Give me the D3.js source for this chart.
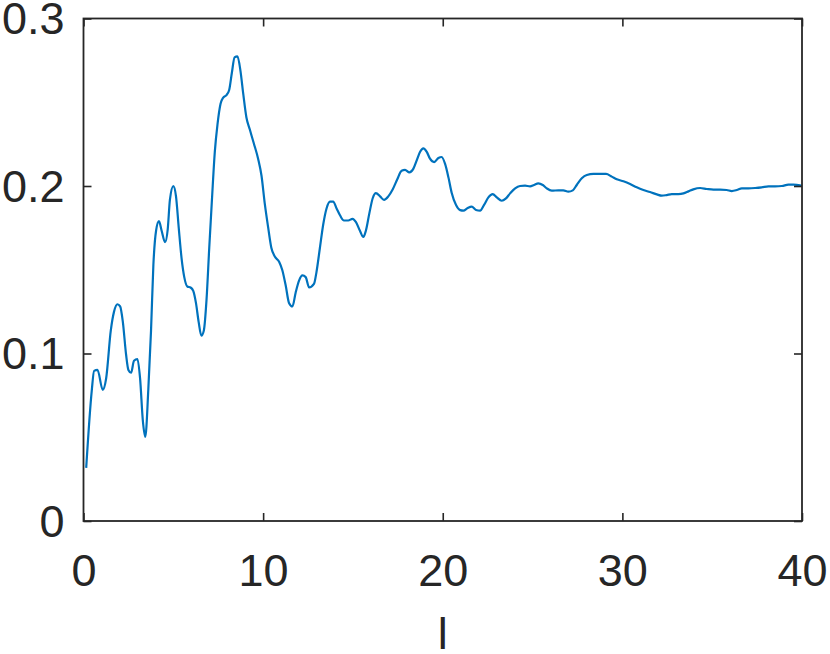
<!DOCTYPE html>
<html>
<head>
<meta charset="utf-8">
<script src="https://cdn.jsdelivr.net/npm/d3@7"></script>
<style>
  html, body { margin: 0; padding: 0; background: #fff; }
  svg { display: block; }
</style>
</head>
<body>
<div id="chart"></div>
<script>
// ---- data ----
const xValues = [0.15,0.46,0.59,0.78,1.07,1.26,1.52,1.70,1.89,2.04,2.19,2.37,2.50,2.65,2.81,3.00,3.15,3.30,3.44,3.61,3.76,3.89,4.04,4.20,4.35,4.54,4.69,4.81,5.00,5.15,5.30,5.46,5.61,5.78,5.96,6.11,6.26,6.41,6.56,6.70,6.85,7.00,7.15,7.31,7.46,7.63,7.78,7.96,8.11,8.26,8.41,8.57,8.74,8.89,9.07,9.26,9.48,9.72,9.91,10.09,10.28,10.46,10.65,10.89,11.07,11.26,11.44,11.63,11.81,12.00,12.19,12.37,12.56,
  12.83,12.97,13.16,13.35,13.53,13.72,13.90,14.09,14.28,14.50,14.74,14.98,15.17,15.39,15.58,15.72,15.91,16.10,16.28,16.51,16.73,16.97,17.21,17.47,17.71,17.90,18.14,18.36,18.55,18.74,18.92,19.11,19.29,19.52,19.76,19.94,20.13,20.32,20.50,20.74,20.97,
  21.15,21.37,21.61,21.85,22.08,22.30,22.54,22.78,23.01,23.28,23.52,23.75,24.03,24.30,24.58,24.86,25.08,25.32,25.57,25.79,26.07,26.44,26.71,26.99,27.24,27.46,27.74,28.02,28.39,28.76,29.09,29.41,29.69,30.06,30.43,30.80,31.17,31.54,31.92,32.19,32.47,32.75,33.12,33.40,33.68,33.95,34.33,34.70,35.07,35.44,35.81,36.09,36.37,36.65,37.02,37.39,37.76,38.13,38.50,38.88,39.24,39.52,39.89,40.00];
const yValues = [0.0317,0.0779,0.0896,0.0902,0.0783,0.0851,0.1138,0.1250,0.1294,0.1281,0.1189,0.0994,0.0902,0.0885,0.0957,0.0967,0.0851,0.0604,0.0502,0.0789,0.1138,0.1528,0.1733,0.1790,0.1733,0.1665,0.1743,0.1917,0.1999,0.1938,0.1753,0.1568,0.1456,0.1400,0.1394,0.1374,0.1302,0.1189,0.1107,0.1138,0.1323,0.1630,0.1917,0.2204,0.2368,0.2491,0.2528,0.2543,0.2573,0.2676,0.2768,0.2774,0.2686,0.2553,0.2409,0.2337,0.2255,0.2163,0.2061,0.1896,0.1753,0.1630,0.1579,0.1548,0.1497,0.1404,0.1302,0.1281,0.1363,0.1435,0.1466,0.1456,0.1394,
  0.1415,0.1486,0.1630,0.1773,0.1866,0.1907,0.1907,0.1866,0.1825,0.1794,0.1794,0.1804,0.1784,0.1733,0.1696,0.1733,0.1835,0.1927,0.1958,0.1938,0.1917,0.1938,0.1979,0.2040,0.2091,0.2096,0.2081,0.2102,0.2153,0.2204,0.2225,0.2204,0.2163,0.2143,0.2167,0.2173,0.2132,0.2050,0.1958,0.1886,0.1856,
  0.1853,0.1867,0.1877,0.1857,0.1853,0.1887,0.1932,0.1952,0.1932,0.1912,0.1926,0.1956,0.1986,0.2000,0.2002,0.1998,0.2006,0.2016,0.2006,0.1986,0.1972,0.1974,0.1974,0.1966,0.1974,0.2006,0.2046,0.2066,0.2072,0.2072,0.2072,0.2056,0.2040,0.2028,0.2012,0.1992,0.1976,0.1964,0.1950,0.1942,0.1946,0.1952,0.1952,0.1956,0.1968,0.1980,0.1988,0.1982,0.1978,0.1978,0.1976,0.1970,0.1976,0.1986,0.1986,0.1988,0.1992,0.1998,0.1998,0.2000,0.2008,0.2008,0.2004,0.2000];
const xTicks = [0, 10, 20, 30, 40];
const yTicks = [0, 0.1, 0.2, 0.3];
const xLabel = "l";

// ---- layout ----
const W = 830, H = 654;
const L = 83.5, R = 802, T = 18.5, B = 521;
const axisColor = "#262626";
const fontFamily = "'Liberation Sans', Arimo, Helvetica, Arial, sans-serif";
const fs = 45;

const svg = d3.select("#chart").append("svg").attr("width", W).attr("height", H);

const x = d3.scaleLinear().domain([0, 40]).range([L, R]);
const y = d3.scaleLinear().domain([0, 0.3]).range([B, T]);

const data = xValues.map((v, i) => [v, yValues[i]]);

// line (clipped to the plot box)
svg.append("clipPath").attr("id", "clip")
  .append("rect").attr("x", L).attr("y", T).attr("width", R - L).attr("height", B - T);

svg.append("path")
  .datum(data)
  .attr("clip-path", "url(#clip)")
  .attr("fill", "none")
  .attr("stroke", "#0072BD")
  .attr("stroke-width", 2.2)
  .attr("stroke-linejoin", "round")
  .attr("d", d3.line().x(d => x(d[0])).y(d => y(d[1])).curve(d3.curveMonotoneX));

// axes with inward ticks
const tickLen = 8;
const bottomAxis = d3.axisBottom(x).tickValues(xTicks).tickSize(-tickLen).tickPadding(33).tickFormat(d3.format("d"));
const topAxis = d3.axisTop(x).tickValues(xTicks).tickSize(-tickLen).tickFormat("");
const leftAxis = d3.axisLeft(y).tickValues(yTicks).tickSize(-tickLen).tickPadding(19).tickFormat(d => d === 0 ? "0" : d3.format(".1f")(d));
const rightAxis = d3.axisRight(y).tickValues(yTicks).tickSize(-tickLen).tickFormat("");

function style(g) {
  g.select(".domain").remove();
  g.selectAll(".tick line").attr("stroke", axisColor).attr("stroke-width", 1.6);
  g.selectAll(".tick text").attr("fill", axisColor).attr("font-family", fontFamily).attr("font-size", fs);
}

svg.append("g").attr("transform", `translate(0,${B})`).call(bottomAxis).call(style)
  .selectAll(".tick text").attr("dy", "0.71em");
svg.append("g").attr("transform", `translate(0,${T})`).call(topAxis).call(style);
svg.append("g").attr("transform", `translate(${L},0)`).call(leftAxis).call(style)
  .selectAll(".tick text").attr("dy", "0.34em");
svg.append("g").attr("transform", `translate(${R},0)`).call(rightAxis).call(style);

// box
svg.append("rect")
  .attr("x", L).attr("y", T).attr("width", R - L).attr("height", B - T)
  .attr("fill", "none").attr("stroke", axisColor).attr("stroke-width", 1.8);

// x label
svg.append("text")
  .attr("x", (L + R) / 2).attr("y", 649)
  .attr("text-anchor", "middle")
  .attr("fill", axisColor)
  .attr("font-family", fontFamily)
  .attr("font-size", fs)
  .text(xLabel);
</script>
</body>
</html>
